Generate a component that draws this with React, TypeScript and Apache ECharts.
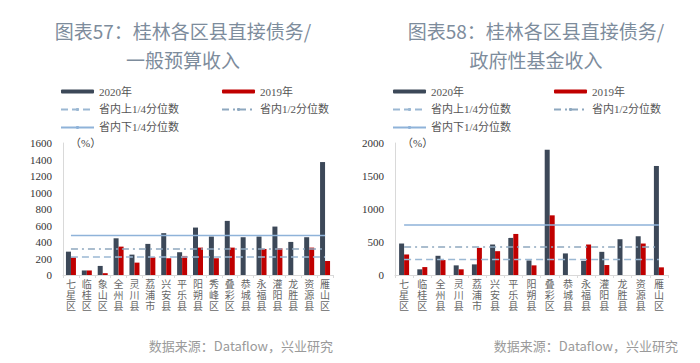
import React, { useEffect, useRef } from "react";
import * as echarts from "echarts";

const catA = ["七星区", "临桂区", "象山区", "全州县", "灵川县", "荔浦市", "兴安县", "平乐县", "阳朔县", "秀峰区", "叠彩区", "恭城县", "永福县", "灌阳县", "龙胜县", "资源县", "雁山区"];
const a2020 = [283, 55, 110, 445, 247, 377, 507, 276, 575, 466, 656, 458, 466, 587, 401, 458, 1369];
const a2019 = [213, 55, 22, 344, 150, 215, 203, 231, 332, 203, 332, null, 316, 324, null, 332, 170];
const aUpper = 219;
const aMedian = 316;
const aLower = 478;

const catB = ["七星区", "临桂区", "全州县", "灵川县", "荔浦市", "兴安县", "平乐县", "阳朔县", "叠彩区", "恭城县", "永福县", "灌阳县", "龙胜县", "资源县", "雁山区"];
const b2020 = [477, 86, 291, 146, 161, 462, 562, 221, 1898, 327, 215, 351, 542, 587, 1652];
const b2019 = [311, 120, 226, 86, 411, 361, 622, 146, 904, null, 462, 151, null, 477, 116];
const bUpper = 236;
const bMedian = 426;
const bLower = 758;

const titleA = ["图表57：桂林各区县直接债务/", "一般预算收入"];
const titleB = ["图表58：桂林各区县直接债务/", "政府性基金收入"];
const source = "数据来源：Dataflow，兴业研究";
const unit = "（%）";
const names = ["2020年", "2019年", "省内上1/4分位数", "省内1/2分位数", "省内下1/4分位数"];

const DARK = "#3c4858";
const RED = "#c00000";
const SOLID_C = "#8fb3d9";
const DASH_C = "#9bb8d3";
const DOT_C = "#8ea8bf";
const SERIF = "'Liberation Serif', 'Noto Sans CJK SC', serif";
const SANS = "'Noto Sans CJK SC', 'Noto Sans', sans-serif";

function flat(v: number, n: number) {
  return new Array(n).fill(v);
}

export default function App() {
  const ref = useRef<HTMLDivElement>(null);
  useEffect(() => {
    if (!ref.current) return;
    const chart = echarts.init(ref.current, null, { renderer: "svg" });

    const mkTitle = (t: string[], cx: number) => [
      {
        text: t[0],
        left: cx,
        top: 16,
        textAlign: "center",
        textStyle: { fontFamily: SANS, fontSize: 19, fontWeight: "normal", color: "#7d8c9c" },
      },
      {
        text: t[1],
        left: cx,
        top: 45,
        textAlign: "center",
        textStyle: { fontFamily: SANS, fontSize: 19, fontWeight: "normal", color: "#7d8c9c" },
      },
    ];

    const legendBase = {
      orient: "vertical",
      itemWidth: 33,
      itemHeight: 4,
      itemGap: 7,
      textStyle: { fontFamily: SERIF, fontSize: 11, color: "#555" },
      selectedMode: false,
    };

    const mkLegends = (x1: number, x2: number) => [
      { ...legendBase, left: x1, top: 81, data: [names[0], names[2], names[4]] },
      { ...legendBase, left: x2, top: 81, data: [names[1], names[3]] },
    ];

    // one axis per character row so the vertical labels are stacked single-line texts
    const xAxesFor = (cats: string[], gi: number) =>
      [0, 1, 2].map((ci) => ({
        type: "category",
        gridIndex: gi,
        data: cats,
        position: "bottom",
        offset: 0,
        axisLine: { show: ci === 0, lineStyle: { color: "#d9d9d9" } },
        axisTick: { show: ci === 0, length: 3, lineStyle: { color: "#d9d9d9" } },
        axisLabel: {
          interval: 0,
          margin: 4 + ci * 11.2,
          fontFamily: SERIF,
          fontSize: 10,
          color: "#666",
          formatter: (v: string) => v.charAt(ci),
        },
      }));

    const yAxisBase = (gi: number, max: number, interval: number) => ({
      type: "value",
      gridIndex: gi,
      min: 0,
      max,
      interval,
      axisLine: { show: true, lineStyle: { color: "#d9d9d9" } },
      axisTick: { show: false },
      splitLine: { show: false },
      axisLabel: {
        margin: 11,
        fontFamily: SERIF,
        fontSize: 11,
        color: "#333",
        formatter: (v: number) => String(v),
      },
    });

    const mkSeries = (xi: number, yi: number, d20: any[], d19: any[], up: number, med: number, low: number, n: number) => [
      { name: names[0], type: "bar", xAxisIndex: xi, yAxisIndex: yi, data: d20, barWidth: 5, barGap: "0%", itemStyle: { color: DARK } },
      { name: names[1], type: "bar", xAxisIndex: xi, yAxisIndex: yi, data: d19, barWidth: 5, barGap: "0%", itemStyle: { color: RED } },
      { name: names[2], type: "line", xAxisIndex: xi, yAxisIndex: yi, data: flat(up, n), symbol: "none", lineStyle: { color: DASH_C, width: 1.5, type: [7, 4] }, itemStyle: { color: DASH_C } },
      { name: names[3], type: "line", xAxisIndex: xi, yAxisIndex: yi, data: flat(med, n), symbol: "none", lineStyle: { color: DOT_C, width: 1.5, type: [7, 4, 2, 4] }, itemStyle: { color: DOT_C } },
      { name: names[4], type: "line", xAxisIndex: xi, yAxisIndex: yi, data: flat(low, n), symbol: "none", lineStyle: { color: SOLID_C, width: 1.5 }, itemStyle: { color: SOLID_C } },
    ];

    const option: any = {
      animation: false,
      backgroundColor: "#ffffff",
      title: [...mkTitle(titleA, 178), ...mkTitle(titleB, 531)],
      legend: [...mkLegends(55, 216), ...mkLegends(387, 548)],
      grid: [
        { left: 63, right: 367, top: 143, bottom: 88 },
        { left: 395, right: 32, top: 143, bottom: 88 },
      ],
      xAxis: [...xAxesFor(catA, 0), ...xAxesFor(catB, 1)],
      yAxis: [yAxisBase(0, 1600, 200), yAxisBase(1, 2000, 500)],
      series: [
        ...mkSeries(0, 0, a2020, a2019, aUpper, aMedian, aLower, catA.length),
        ...mkSeries(3, 1, b2020, b2019, bUpper, bMedian, bLower, catB.length),
      ],
      graphic: [
        { type: "text", left: 70, top: 137, style: { text: unit, font: `11px ${SERIF}`, fill: "#444" } },
        { type: "text", left: 402, top: 137, style: { text: unit, font: `11px ${SERIF}`, fill: "#444" } },
        { type: "text", right: 367, top: 339, style: { text: source, font: `13px ${SANS}`, fill: "#9a9a9a" } },
        { type: "text", right: 22, top: 339, style: { text: source, font: `13px ${SANS}`, fill: "#9a9a9a" } },
      ],
    };
    chart.setOption(option);
    return () => chart.dispose();
  }, []);
  return (
    <div
      ref={ref}
      style={{ position: "absolute", left: 0, top: 0, width: 700, height: 363, background: "#fff" }}
    />
  );
}
